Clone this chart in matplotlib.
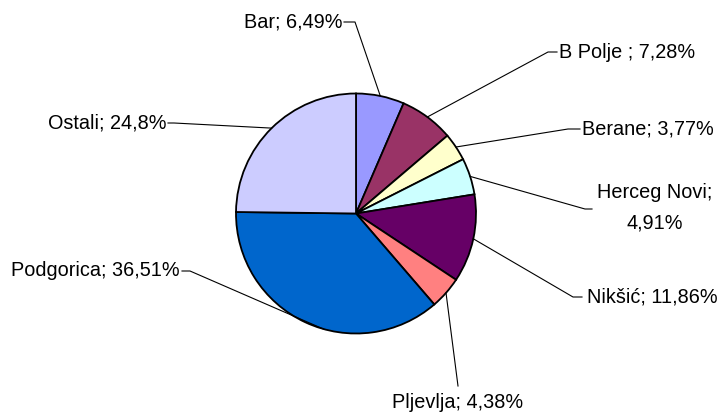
import numpy as np
import matplotlib.pyplot as plt

plt.rcParams['font.family'] = ['Liberation Sans', 'DejaVu Sans']

# data
gradovi = ['Bar', 'B Polje ', 'Berane', 'Herceg Novi', 'Nikšić', 'Pljevlja', 'Podgorica', 'Ostali']
udjeli = [6.49, 7.28, 3.77, 4.91, 11.86, 4.38, 36.51, 24.8]
boje = ['#9999FF', '#993366', '#FFFFCC', '#CCFFFF', '#660066', '#FF8080', '#0066CC', '#CCCCFF']

W, H = 721, 413
cx, cy, R = 356, H - 213.5, 120

fig = plt.figure(figsize=(7.21, 4.13), dpi=100)
ax = fig.add_axes([0, 0, 1, 1])
wedges, _ = ax.pie(udjeli, colors=boje, startangle=90, counterclock=False,
                   radius=R, center=(cx, cy),
                   wedgeprops=dict(edgecolor='black', linewidth=1.3))
ax.set_xlim(0, W)
ax.set_ylim(0, H)
ax.set_aspect('equal')
ax.axis('off')

# label layout (pixel coords from top-left): text pos, alignment, elbow points
layout = [
    dict(txt=(343, 22), ha='right', elbow=[(344, 22), (355, 22)]),
    dict(txt=(559, 52), ha='left', elbow=[(557, 52), (548, 52)]),
    dict(txt=(582, 129), ha='left', elbow=[(580, 129), (568, 129)]),
    dict(txt=(655, 208), ha='center', elbow=[(592, 209), (585, 209)]),
    dict(txt=(587, 297), ha='left', elbow=[(582, 297), (573, 297)]),
    dict(txt=(458, 403), ha='center', elbow=[(458, 386)]),
    dict(txt=(180, 271), ha='right', elbow=[(182, 271), (190, 271)]),
    dict(txt=(166, 123), ha='right', elbow=[(168, 123), (174, 123)]),
]

for i, (w, g, p, lay) in enumerate(zip(wedges, gradovi, udjeli, layout)):
    frac = 0.57 if g == 'Podgorica' else 0.5
    ang = np.deg2rad(w.theta1 + (w.theta2 - w.theta1) * frac)
    ex, ey = cx + R * np.cos(ang), cy + R * np.sin(ang)
    pts = [(x, H - y) for x, y in lay['elbow']] + [(ex, ey)]
    ax.plot([q[0] for q in pts], [q[1] for q in pts], color='black', lw=0.8)
    pct = ('%g' % p).replace('.', ',')
    if g == 'Herceg Novi':
        label = g + ';\n' + pct + '%'
    else:
        label = g + '; ' + pct + '%'
    tx, ty = lay['txt']
    ax.text(tx, H - ty, label, ha=lay['ha'], va='center', fontsize=14.3,
            multialignment='center', linespacing=1.75, color='black')

fig.savefig('out.png', dpi=100)
